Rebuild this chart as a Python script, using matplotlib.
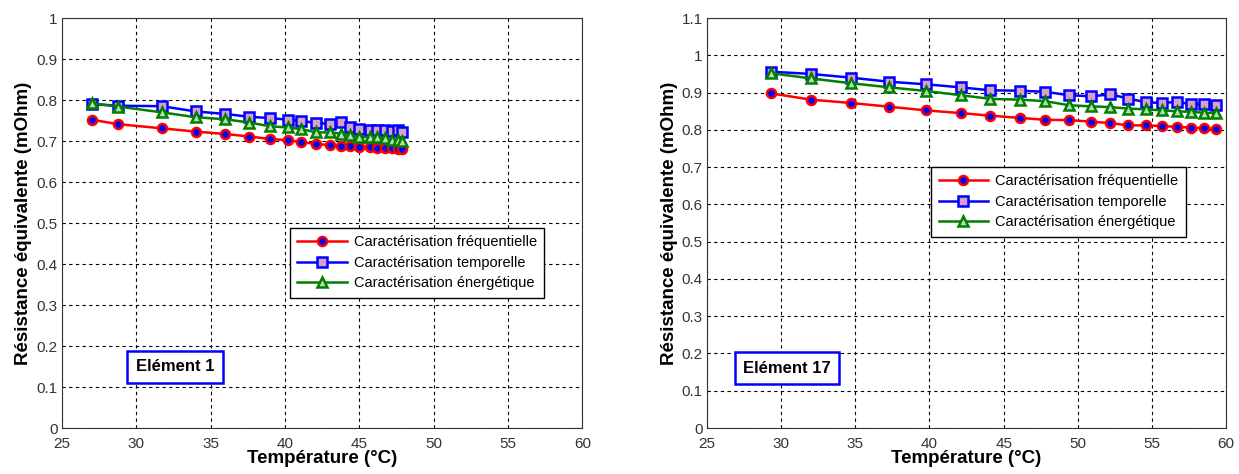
# Imports
import matplotlib
matplotlib.use("Agg")
from matplotlib import pyplot as plt

plt.rcParams["font.family"] = ["Liberation Sans", "DejaVu Sans"]

# Data - Element 1
temp_1 = [27.0, 28.8, 31.7, 34.0, 36.0, 37.6, 39.0, 40.2, 41.1, 42.1, 43.0, 43.8, 44.4, 45.0, 45.7, 46.2, 46.7, 47.2, 47.6, 47.9]
freq_1 = [0.752, 0.741, 0.731, 0.723, 0.717, 0.711, 0.705, 0.702, 0.697, 0.693, 0.690, 0.688, 0.687, 0.685, 0.685, 0.684, 0.683, 0.682, 0.680, 0.680]
temporal_1 = [0.790, 0.786, 0.785, 0.772, 0.766, 0.759, 0.756, 0.752, 0.749, 0.744, 0.742, 0.746, 0.734, 0.729, 0.726, 0.727, 0.726, 0.725, 0.728, 0.723]
energy_1 = [0.792, 0.784, 0.770, 0.758, 0.753, 0.745, 0.736, 0.733, 0.729, 0.721, 0.721, 0.718, 0.715, 0.710, 0.710, 0.710, 0.707, 0.702, 0.703, 0.700]

# Data - Element 17
temp_17 = [29.3, 32.0, 34.7, 37.3, 39.8, 42.1, 44.1, 46.1, 47.8, 49.4, 50.9, 52.2, 53.4, 54.6, 55.7, 56.7, 57.6, 58.5, 59.3]
freq_17 = [0.898, 0.881, 0.872, 0.862, 0.852, 0.845, 0.838, 0.832, 0.827, 0.826, 0.822, 0.818, 0.812, 0.812, 0.810, 0.808, 0.806, 0.804, 0.803]
temporal_17 = [0.956, 0.950, 0.940, 0.929, 0.922, 0.914, 0.906, 0.905, 0.902, 0.893, 0.890, 0.895, 0.884, 0.874, 0.872, 0.875, 0.869, 0.868, 0.866]
energy_17 = [0.952, 0.938, 0.925, 0.914, 0.904, 0.893, 0.883, 0.881, 0.877, 0.866, 0.863, 0.861, 0.857, 0.855, 0.852, 0.850, 0.848, 0.846, 0.845]

labels = ["Caractérisation fréquentielle", "Caractérisation temporelle", "Caractérisation énergétique"]
x_ticks = [25, 30, 35, 40, 45, 50, 55, 60]

# Figure
fig = plt.figure(figsize=(12.39, 4.74), dpi=100)
ax1 = fig.add_axes([0.050, 0.097, 0.420, 0.865])
ax2 = fig.add_axes([0.5706, 0.097, 0.419, 0.865])


def draw(ax, temp, freq, temporal, energy, y_max, y_ticks, y_labels, name, name_pos, legend_pos):
	ax.plot(temp, freq, color="red", lw=1.8, marker="o", ms=6.5, mfc="blue", mec="red", mew=1.8, label=labels[0])
	ax.plot(temp, temporal, color="blue", lw=1.8, marker="s", ms=7.5, mfc="#d8a0c8", mec="blue", mew=1.8, label=labels[1])
	ax.plot(temp, energy, color="green", lw=1.8, marker="^", ms=7, mfc="#b8dcb0", mec="green", mew=1.8, label=labels[2])
	ax.set_xlim(25, 60)
	ax.set_ylim(0, y_max)
	ax.set_xticks(x_ticks)
	ax.set_yticks(y_ticks)
	ax.set_yticklabels(y_labels)
	ax.tick_params(labelsize=11, labelcolor="#333333", length=0)
	ax.tick_params(axis="x", pad=6.5)
	ax.tick_params(axis="y", pad=3)
	ax.grid(True, color="black", linestyle=(0, (3, 3)), linewidth=0.8)
	for spine in ax.spines.values():
		spine.set_color("#333333")
	ax.set_xlabel("Température (°C)", fontsize=13.5, fontweight="bold", labelpad=-1)
	ax.set_ylabel("Résistance équivalente (mOhm)", fontsize=13.5, fontweight="bold", labelpad=3)
	leg = ax.legend(loc="upper left", bbox_to_anchor=legend_pos, borderaxespad=0, fancybox=False,
		edgecolor="black", framealpha=1, fontsize=10.5, handlelength=3.4, labelspacing=0.45,
		borderpad=0.5, handletextpad=0.5)
	leg.get_frame().set_linewidth(1.0)
	ax.text(name_pos[0], name_pos[1], name, fontsize=12, fontweight="bold", ha="center", va="center",
		bbox=dict(boxstyle="square,pad=0.5", fc="white", ec="blue", lw=1.8))


draw(ax1, temp_1, freq_1, temporal_1, energy_1, 1.0,
	[i / 10 for i in range(11)], ["0", "0.1", "0.2", "0.3", "0.4", "0.5", "0.6", "0.7", "0.8", "0.9", "1"],
	"Elément 1", (32.6, 0.149), (0.438, 0.488))
draw(ax2, temp_17, freq_17, temporal_17, energy_17, 1.1,
	[i / 10 for i in range(12)], ["0", "0.1", "0.2", "0.3", "0.4", "0.5", "0.6", "0.7", "0.8", "0.9", "1", "1.1"],
	"Elément 17", (30.4, 0.161), (0.432, 0.637))

# Save
plt.savefig("out.png", dpi=100)
